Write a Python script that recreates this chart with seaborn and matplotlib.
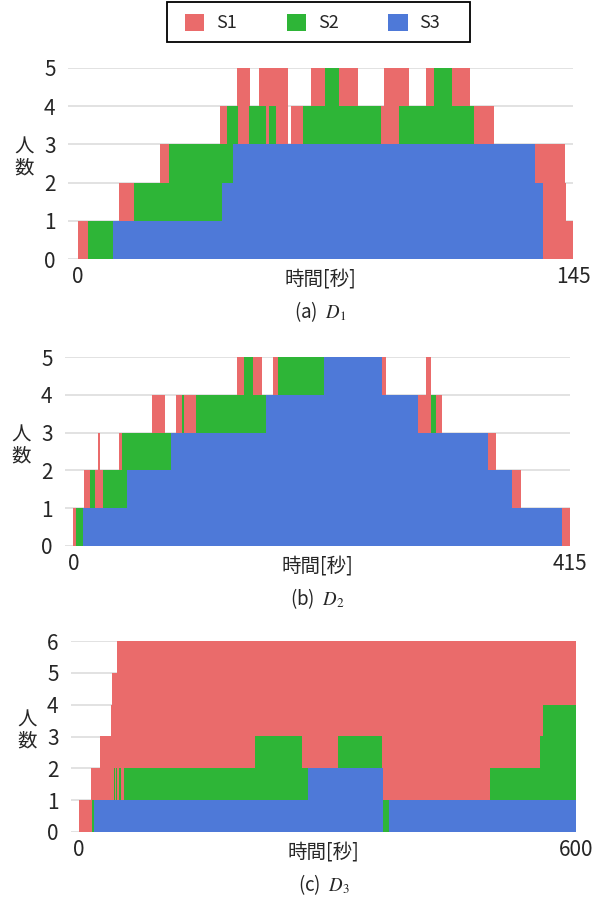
#!/usr/bin/env python3
# -*- coding: utf-8 -*-
# 3つのデータセット (D1, D2, D3) の人数推移を積み上げステップ図で描く
# 出力: out.png (606x899)

import numpy as np
import pandas as pd
import matplotlib

matplotlib.use("Agg")
import matplotlib.pyplot as plt  # noqa: E402
from matplotlib.patches import Patch, Rectangle  # noqa: E402
import seaborn as sns  # noqa: E402

SERIES = ["S1", "S2", "S3"]
COLORS = {"S1": "#EA6B6B", "S2": "#2EB537", "S3": "#4E79D8"}

# ---- D1 : 区間の境界時刻[秒] と 各区間の人数 ----
D1_T = [0, 3.0, 10.3, 12.1, 16.3, 23.9, 26.7, 41.5, 42.1, 43.7, 45.5, 46.5,
        46.8, 50.2, 50.4, 53.0, 55.0, 56.1, 58.0, 61.6, 62.3, 66.0, 68.2,
        72.5, 76.5, 82.0, 88.8, 89.6, 93.9, 96.9, 101.9, 104.3, 109.5, 114.8,
        116.0, 122.0, 133.9, 136.1, 136.3, 142.7, 142.9, 145]
D1_S1 = [1, 0, 0, 1, 0, 1, 0, 1, 1, 0, 0, 1, 2, 1, 0, 1, 2, 1, 2, 0,
         1, 0, 1, 0, 1, 0, 1, 2, 1, 0, 1, 0, 1, 0, 1, 0, 1, 2, 3, 2, 1]
D1_S2 = [0, 1, 0, 0, 1, 1, 2, 2, 1, 2, 1, 1, 0, 1, 1, 1, 0, 1, 0, 0,
         0, 1, 1, 2, 1, 1, 0, 0, 1, 1, 1, 2, 1, 1, 0, 0, 0, 0, 0, 0, 0]
D1_S3 = [0, 0, 1, 1, 1, 1, 1, 1, 2, 2, 3, 3, 3, 3, 3, 3, 3, 3, 3, 3,
         3, 3, 3, 3, 3, 3, 3, 3, 3, 3, 3, 3, 3, 3, 3, 3, 2, 1, 0, 0, 0]

# ---- D2 ----
D2_T = [0, 2.1, 8.2, 9.0, 13.8, 18.0, 20.7, 22.2, 24.9, 37.8, 40.6, 44.5,
        65.4, 76.6, 81.3, 85.7, 90.5, 92.1, 102.2, 136.5, 142.3, 149.8,
        157.6, 160.7, 166.5, 171.0, 209.4, 257.7, 261.3, 287.8, 294.7, 299.2,
        303.1, 308.1, 346.8, 353.3, 366.6, 374.2, 408.4, 415]
D2_S1 = [1, 0, 0, 1, 0, 1, 2, 1, 0, 1, 0, 0, 1, 0, 0, 1, 0, 1, 0, 1,
         0, 1, 0, 0, 1, 0, 0, 1, 0, 1, 2, 0, 1, 0, 1, 0, 1, 0, 1]
D2_S2 = [0, 1, 0, 0, 1, 0, 0, 0, 1, 1, 2, 1, 1, 1, 0, 0, 1, 0, 1, 1,
         2, 1, 1, 0, 0, 1, 0, 0, 0, 0, 0, 1, 0, 0, 0, 0, 0, 0, 0]
D2_S3 = [0, 0, 1, 1, 1, 1, 1, 1, 1, 1, 1, 2, 2, 2, 3, 3, 3, 3, 3, 3,
         3, 3, 3, 4, 4, 4, 5, 4, 4, 3, 3, 3, 3, 3, 2, 2, 1, 1, 0]

# ---- D3 ----
D3_T = [0, 14.1, 15.3, 18.5, 25.8, 38.6, 39.9, 42.7, 43.5, 44.7, 45.5, 46.3,
        48.7, 50.7, 54.7, 212.6, 269.3, 276.2, 312.8, 317.0, 318.0, 366.3,
        367.5, 374.4, 495.6, 556.4, 560.4, 600]
D3_S1 = [1, 2, 1, 1, 2, 3, 4, 3, 4, 3, 4, 5, 4, 5, 4, 3, 4, 4, 3, 2,
         3, 4, 5, 5, 4, 3, 2]
D3_S2 = [0, 0, 1, 0, 0, 0, 0, 1, 0, 1, 0, 0, 1, 0, 1, 2, 1, 0, 1, 2,
         1, 0, 1, 0, 1, 2, 3]
D3_S3 = [0, 0, 0, 1, 1, 1, 1, 1, 1, 1, 1, 1, 1, 1, 1, 1, 1, 2, 2, 2,
         2, 2, 0, 1, 1, 1, 1]

PANELS = [
    # (境界, S1, S2, S3, y上限, x下限, キャプション, axes位置[px]: left, top, bottom)
    (D1_T, D1_S1, D1_S2, D1_S3, 5, -2.9, "(a)  $D_1$", (68, 68, 259)),
    (D2_T, D2_S1, D2_S2, D2_S3, 5, -7.1, "(b)  $D_2$", (65, 357, 546)),
    (D3_T, D3_S1, D3_S2, D3_S3, 6, -9.7, "(c)  $D_3$", (71, 641, 832)),
]

W, H = 606, 899
AX_W = 505


def to_long(edges, s1, s2, s3) -> pd.DataFrame:
    """区間中点 + 人数(weight) の long 形式に変換"""
    edges = np.asarray(edges, dtype=float)
    mids = (edges[:-1] + edges[1:]) / 2
    frames = []
    for name, vals in zip(SERIES, (s1, s2, s3)):
        frames.append(pd.DataFrame({"t": mids, "series": name, "n": vals}))
    return pd.concat(frames, ignore_index=True)


def draw_panel(fig, edges, s1, s2, s3, ymax, xmin, caption, box) -> None:
    left, top, bottom = box
    ax = fig.add_axes([left / W, 1 - bottom / H, AX_W / W, (bottom - top) / H])
    df = to_long(edges, s1, s2, s3)

    # S3 が一番下, その上に S2, S1 (seaborn の stack は hue 順の逆で積む)
    sns.histplot(
        data=df, x="t", weights="n", hue="series", hue_order=SERIES,
        bins=edges, stat="count", multiple="stack", element="step",
        fill=True, palette=COLORS, alpha=1, linewidth=0, legend=False, ax=ax,
    )

    tmax = edges[-1]
    ax.set_xlim(xmin, tmax)
    ax.set_ylim(0, ymax)
    ax.set_xticks([0, tmax])
    ax.set_xticklabels(["0", f"{tmax:g}"])
    ax.set_yticks(range(ymax + 1))
    ax.tick_params(axis="both", length=0, labelsize=15)
    ax.tick_params(axis="x", pad=5)
    ax.tick_params(axis="y", pad=9)

    ax.set_axisbelow(True)
    ax.xaxis.grid(False)
    ax.yaxis.grid(True, color="#DDDDDD", linewidth=1.2)
    for sp in ax.spines.values():
        sp.set_visible(False)

    axh = bottom - top
    ax.set_xlabel("時間[秒]", fontsize=14)
    ax.xaxis.label.set_va("center")
    ax.xaxis.set_label_coords(0.5, -20 / axh)
    ax.set_ylabel("人\n数", fontsize=14, rotation=0, linespacing=1.0)
    ax.yaxis.label.set_va("center")
    ax.yaxis.set_label_coords(-44 / AX_W, 0.53)

    ax.text(0.5, -53 / axh, caption, transform=ax.transAxes,
            ha="center", va="center", fontsize=13.5)


def main() -> None:
    sns.set_style("whitegrid")
    plt.rcParams["font.family"] = ["Noto Sans CJK JP", "DejaVu Sans"]
    plt.rcParams["mathtext.fontset"] = "stix"
    plt.rcParams["axes.unicode_minus"] = False

    fig = plt.figure(figsize=(W / 100, H / 100), dpi=100)
    for edges, s1, s2, s3, ymax, xmin, caption, box in PANELS:
        draw_panel(fig, edges, s1, s2, s3, ymax, xmin, caption, box)

    # 凡例: 中身は枠なしで置き, 枠は別に描く (右側の余白が広いため)
    handles = [Patch(facecolor=COLORS[s], edgecolor="none") for s in SERIES]
    fig.legend(
        handles, SERIES, loc="center left", bbox_to_anchor=(185 / W, 1 - 23 / H),
        ncol=3, fontsize=13, frameon=False, borderpad=0, borderaxespad=0,
        handlelength=1.08, handleheight=1.08, handletextpad=0.65,
        columnspacing=2.75,
    )
    fig.patches.append(Rectangle(
        (167 / W, 1 - 42 / H), 303 / W, 40 / H, transform=fig.transFigure,
        fill=False, edgecolor="black", linewidth=1.3,
    ))

    fig.savefig("out.png", dpi=100)
    plt.close(fig)


if __name__ == "__main__":
    main()
